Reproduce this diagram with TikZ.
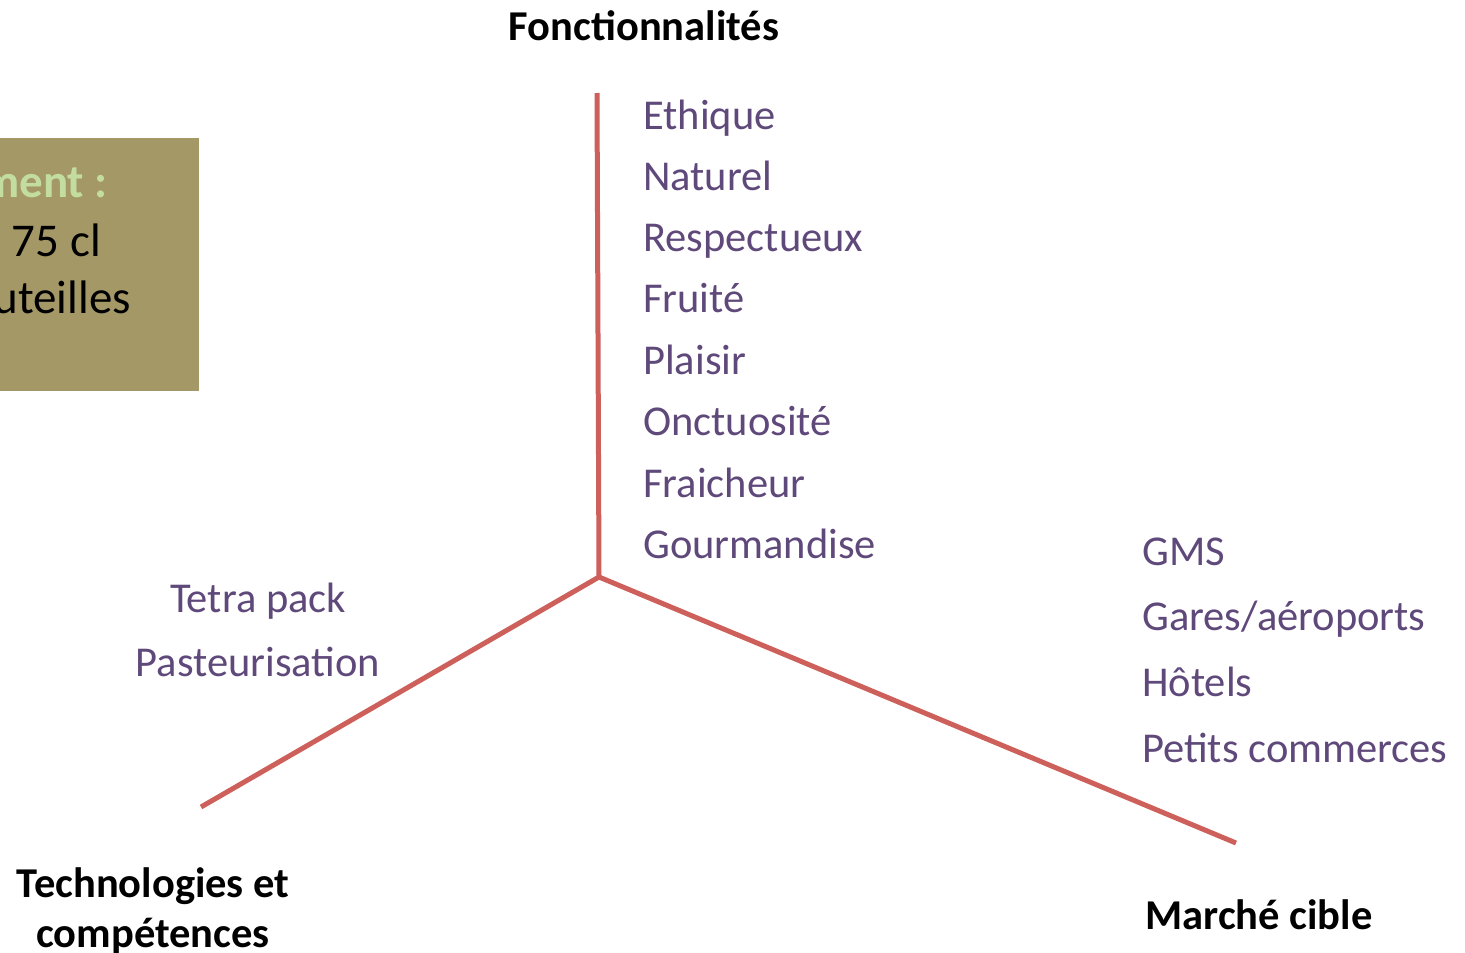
\documentclass[tikz,border=0pt]{standalone}
\usepackage{fontspec}
\setmainfont{Carlito}
\definecolor{axisred}{RGB}{205,96,90}
\definecolor{itempurple}{RGB}{95,73,122}
\definecolor{boxolive}{RGB}{165,152,103}
\definecolor{lightgreen}{RGB}{195,221,160}
\begin{document}
\begin{tikzpicture}[x=1pt,y=-1pt,
  axis/.style={draw=axisred,line width=5pt},
  item/.style={inner sep=0pt,text=itempurple,font=\fontsize{42.5}{42.5}\selectfont,anchor=base west},
  itemc/.style={item,anchor=base},
  title/.style={inner sep=0pt,font=\fontsize{42.5}{42.5}\selectfont\bfseries,anchor=base},
  boxtext/.style={inner sep=0pt,font=\fontsize{47}{47}\selectfont,anchor=base east}]
\useasboundingbox (0,0) rectangle (1465,953);
% box
\fill[boxolive] (0,138) rectangle (199,391);
\begin{scope}
\clip (0,138) rectangle (199,391);
\node[boxtext,text=lightgreen,font=\fontsize{47}{47}\selectfont\bfseries] (b1) at (108,197) {ment :};
\node[boxtext] (b2) at (101,256) {75 cl};
\node[boxtext] (b3) at (131,313) {uteilles};
\end{scope}
% axes
\coordinate (c) at (599,577);
\coordinate (top) at (597,93);
\coordinate (left) at (201,807);
\coordinate (right) at (1236,843);
\draw[axis] (top) -- (c);
\draw[axis] (left) -- (c) -- (right);
% titles
\node[title] (t1) at (644,40) {Fonctionnalités};
\node[title] (t2) at (153,897) {Technologies et};
\node[title] (t3) at (153,947) {compétences};
\node[title] (t4) at (1259,929) {Marché cible};
% top list
\node[item] (f1) at (643,129.5) {Ethique};
\node[item] (f2) at (643,190.5) {Naturel};
\node[item] (f3) at (643,251.5) {Respectueux};
\node[item] (f4) at (643,312.5) {Fruité};
\node[item] (f5) at (643,374.5) {Plaisir};
\node[item] (f6) at (643,435.5) {Onctuosité};
\node[item] (f7) at (643,497.5) {Fraicheur};
\node[item] (f8) at (643,558.5) {Gourmandise};
% left list
\node[itemc] (l1) at (258,612.5) {Tetra pack};
\node[itemc] (l2) at (258,676.5) {Pasteurisation};
% right list
\node[item] (r1) at (1142,565.5) {GMS};
\node[item] (r2) at (1142,630.5) {Gares/aéroports};
\node[item] (r3) at (1142,696.5) {Hôtels};
\node[item] (r4) at (1142,762.5) {Petits commerces};
\end{tikzpicture}
\end{document}
